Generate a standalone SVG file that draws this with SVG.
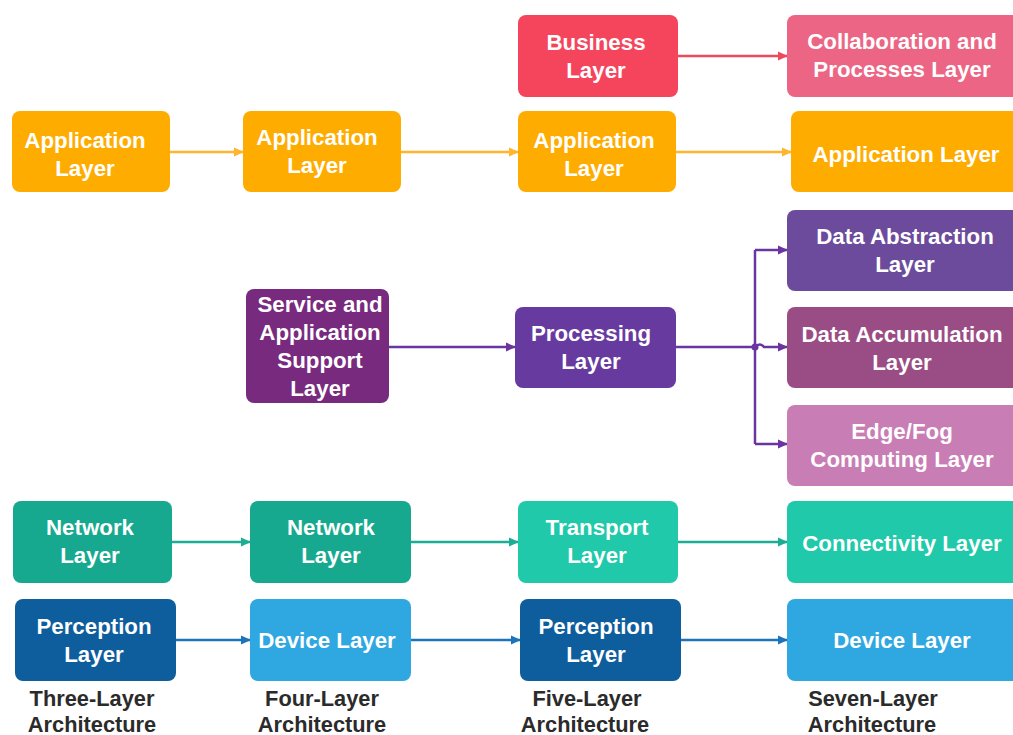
<svg xmlns="http://www.w3.org/2000/svg" width="1013" height="735" viewBox="0 0 1013 735">
<defs>
<style>
.n{stroke:none}
.t{font-family:"Liberation Sans",Arial,sans-serif;font-weight:bold;font-size:22.3px;fill:#ffffff;text-anchor:middle}
.cap{font-family:"Liberation Sans",Arial,sans-serif;font-weight:bold;font-size:21.8px;fill:#2b2b2b;text-anchor:middle}
.e{fill:none;stroke-width:2.5}
.or{stroke:#FFB52E}
.rd{stroke:#EE4A5E}
.pu{stroke:#6A35A0}
.tl{stroke:#1BAE94}
.bl{stroke:#1F73B8}
</style>
<marker id="mo" markerWidth="11" markerHeight="11" refX="10" refY="5.5" orient="auto" markerUnits="userSpaceOnUse"><path d="M1,1 L11,5.5 L1,10 Z" fill="#FFB52E"/></marker>
<marker id="mr" markerWidth="11" markerHeight="11" refX="10" refY="5.5" orient="auto" markerUnits="userSpaceOnUse"><path d="M1,1 L11,5.5 L1,10 Z" fill="#EE4A5E"/></marker>
<marker id="mp" markerWidth="11" markerHeight="11" refX="10" refY="5.5" orient="auto" markerUnits="userSpaceOnUse"><path d="M1,1 L11,5.5 L1,10 Z" fill="#6A35A0"/></marker>
<marker id="mt" markerWidth="11" markerHeight="11" refX="10" refY="5.5" orient="auto" markerUnits="userSpaceOnUse"><path d="M1,1 L11,5.5 L1,10 Z" fill="#1BAE94"/></marker>
<marker id="mb" markerWidth="11" markerHeight="11" refX="10" refY="5.5" orient="auto" markerUnits="userSpaceOnUse"><path d="M1,1 L11,5.5 L1,10 Z" fill="#1F73B8"/></marker>
</defs>
<rect width="1013" height="735" fill="#ffffff"/>

<g id="connectors">
<line class="e or" x1="170" y1="152" x2="243" y2="152" marker-end="url(#mo)"/>
<line class="e or" x1="401" y1="152" x2="518" y2="152" marker-end="url(#mo)"/>
<line class="e or" x1="676" y1="152" x2="791" y2="152" marker-end="url(#mo)"/>
<line class="e rd" x1="678" y1="56" x2="787" y2="56" marker-end="url(#mr)"/>
<line class="e pu" x1="389" y1="347" x2="515" y2="347" marker-end="url(#mp)"/>
<path class="e pu" d="M676,347 L755,347"/>
<path class="e pu" d="M755,250 L755,444"/>
<line class="e pu" x1="755" y1="250" x2="787" y2="250" marker-end="url(#mp)"/>
<path class="e pu" d="M755,347 Q760,342 764,347 L787,347" marker-end="url(#mp)"/>
<line class="e pu" x1="755" y1="444" x2="787" y2="444" marker-end="url(#mp)"/>
<circle cx="755" cy="347" r="3.5" fill="#6A35A0"/>
<line class="e tl" x1="172" y1="542" x2="250" y2="542" marker-end="url(#mt)"/>
<line class="e tl" x1="411" y1="542" x2="518" y2="542" marker-end="url(#mt)"/>
<line class="e tl" x1="678" y1="542" x2="787" y2="542" marker-end="url(#mt)"/>
<line class="e bl" x1="176" y1="640" x2="250" y2="640" marker-end="url(#mb)"/>
<line class="e bl" x1="411" y1="640" x2="520" y2="640" marker-end="url(#mb)"/>
<line class="e bl" x1="681" y1="640" x2="787" y2="640" marker-end="url(#mb)"/>
</g>

<g id="n3-app"><rect class="n" x="12" y="111" width="158" height="81" rx="8" fill="#FFAC00"/><text class="t" x="85" y="148">Application</text><text class="t" x="85" y="176">Layer</text></g>
<g id="n3-net"><rect class="n" x="13" y="501" width="159" height="82" rx="8" fill="#17A98F"/><text class="t" x="90" y="535">Network</text><text class="t" x="90" y="563">Layer</text></g>
<g id="n3-per"><rect class="n" x="15" y="599" width="161" height="82" rx="8" fill="#0E5D9C"/><text class="t" x="94" y="634">Perception</text><text class="t" x="94" y="662">Layer</text></g>

<g id="n4-app"><rect class="n" x="243" y="111" width="158" height="81" rx="8" fill="#FFAC00"/><text class="t" x="317" y="145">Application</text><text class="t" x="317" y="173">Layer</text></g>
<g id="n4-sas"><rect class="n" x="246" y="289" width="143" height="114" rx="8" fill="#782A7F"/><text class="t" x="320" y="312">Service and</text><text class="t" x="320" y="340">Application</text><text class="t" x="320" y="368">Support</text><text class="t" x="320" y="396">Layer</text></g>
<g id="n4-net"><rect class="n" x="250" y="501" width="161" height="82" rx="8" fill="#17A98F"/><text class="t" x="331" y="535">Network</text><text class="t" x="331" y="563">Layer</text></g>
<g id="n4-dev"><rect class="n" x="250" y="599" width="161" height="82" rx="8" fill="#2FA7E1"/><text class="t" x="327" y="648">Device Layer</text></g>

<g id="n5-bus"><rect class="n" x="518" y="15" width="160" height="82" rx="8" fill="#F5455C"/><text class="t" x="596" y="50">Business</text><text class="t" x="596" y="78">Layer</text></g>
<g id="n5-app"><rect class="n" x="518" y="111" width="158" height="81" rx="8" fill="#FFAC00"/><text class="t" x="594" y="148">Application</text><text class="t" x="594" y="176">Layer</text></g>
<g id="n5-proc"><rect class="n" x="515" y="307" width="161" height="81" rx="8" fill="#673AA0"/><text class="t" x="591" y="341">Processing</text><text class="t" x="591" y="369">Layer</text></g>
<g id="n5-tra"><rect class="n" x="518" y="501" width="160" height="82" rx="8" fill="#20C9A9"/><text class="t" x="597" y="535">Transport</text><text class="t" x="597" y="563">Layer</text></g>
<g id="n5-per"><rect class="n" x="520" y="599" width="161" height="82" rx="8" fill="#0E5D9C"/><text class="t" x="596" y="634">Perception</text><text class="t" x="596" y="662">Layer</text></g>

<g id="n7-col"><rect class="n" x="787" y="15" width="236" height="82" rx="8" fill="#EC6584"/><text class="t" x="902" y="49">Collaboration and</text><text class="t" x="902" y="77">Processes Layer</text></g>
<g id="n7-app"><rect class="n" x="791" y="111" width="232" height="81" rx="8" fill="#FFAC00"/><text class="t" x="906" y="162">Application Layer</text></g>
<g id="n7-abs"><rect class="n" x="787" y="210" width="236" height="81" rx="8" fill="#6C4B9C"/><text class="t" x="905" y="244">Data Abstraction</text><text class="t" x="905" y="272">Layer</text></g>
<g id="n7-acc"><rect class="n" x="787" y="307" width="236" height="81" rx="8" fill="#9A4D85"/><text class="t" x="902" y="342">Data Accumulation</text><text class="t" x="902" y="370">Layer</text></g>
<g id="n7-edge"><rect class="n" x="787" y="405" width="236" height="81" rx="8" fill="#C97DB5"/><text class="t" x="902" y="439">Edge/Fog</text><text class="t" x="902" y="467">Computing Layer</text></g>
<g id="n7-con"><rect class="n" x="787" y="501" width="236" height="82" rx="8" fill="#20C9A9"/><text class="t" x="902" y="551">Connectivity Layer</text></g>
<g id="n7-dev"><rect class="n" x="787" y="599" width="236" height="82" rx="8" fill="#2FA7E1"/><text class="t" x="902" y="648">Device Layer</text></g>

<g id="captions">
<text class="cap" x="92" y="706">Three-Layer</text><text class="cap" x="92" y="732">Architecture</text>
<text class="cap" x="322" y="706">Four-Layer</text><text class="cap" x="322" y="732">Architecture</text>
<text class="cap" x="587" y="706">Five-Layer</text><text class="cap" x="585" y="732">Architecture</text>
<text class="cap" x="873" y="706">Seven-Layer</text><text class="cap" x="872" y="732">Architecture</text>
</g>
</svg>
